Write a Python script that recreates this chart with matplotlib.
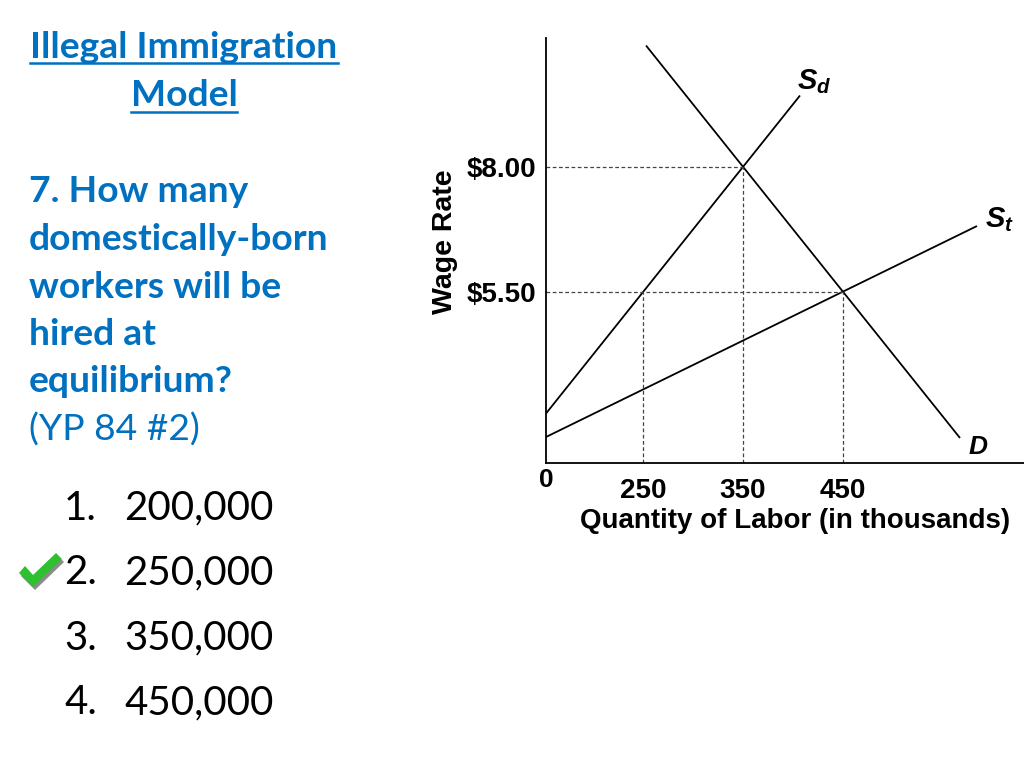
import matplotlib
matplotlib.use("Agg")
import matplotlib.pyplot as plt
from matplotlib.lines import Line2D
from matplotlib.patches import Polygon

# data: labour market (quantity in thousands, wage in $)
sd_q = [153, 407]
sd_w = [3.07, 9.43]
d_q = [253, 567]
d_w = [10.43, 2.58]
st_q = [153, 584]
st_w = [2.60, 6.82]

wage_ticks = [8.00, 5.50]
wage_labels = ["$8.00", "$5.50"]
qty_ticks = [250, 350, 450]
qty_labels = ["250", "350", "450"]

# dashed guides: (q, w) points where curves cross
eq_high = (350, 8.00)   # Sd meets D
eq_low = (450, 5.50)    # St meets D
sd_at_low = (250, 5.50)  # domestic supply at $5.50

title_lines = ["Illegal Immigration", "Model"]
question_lines = ["7. How many", "domestically-born", "workers will be",
                  "hired at", "equilibrium?"]
source = "(YP 84 #2)"
answers = ["200,000", "250,000", "350,000", "450,000"]
correct = 1

BLUE = "#0070C0"
W, H = 1024, 768

plt.rcParams["mathtext.fontset"] = "custom"
plt.rcParams["mathtext.it"] = "Liberation Sans:italic:bold"
plt.rcParams["mathtext.rm"] = "Liberation Sans:bold"

fig = plt.figure(figsize=(10.24, 7.68), dpi=100)


def fx(px):
    return px / W


def fy(py):
    return 1 - py / H


# ---- chart ----
ax = fig.add_axes([fx(546), fy(463), fx(1024) - fx(546), fy(38) - fy(463)])
ax.set_xlim(153, 631)
ax.set_ylim(2.08, 10.58)
for s in ["top", "right"]:
    ax.spines[s].set_visible(False)
for s in ["left", "bottom"]:
    ax.spines[s].set_linewidth(1.3)
ax.patch.set_alpha(0)

lw = 1.3
ax.plot(sd_q, sd_w, color="black", lw=lw, solid_capstyle="butt")
ax.plot(d_q, d_w, color="black", lw=lw, solid_capstyle="butt")
ax.plot(st_q, st_w, color="black", lw=lw, solid_capstyle="butt")

dash = dict(color="#444444", lw=0.9, linestyle=(0, (3, 2)))
ax.plot([153, eq_high[0]], [eq_high[1]] * 2, **dash)
ax.plot([153, eq_low[0]], [eq_low[1]] * 2, **dash)
for q, w in [sd_at_low, eq_high, eq_low]:
    ax.plot([q, q], [2.08, w], **dash)

ax.set_xticks(qty_ticks)
ax.set_xticklabels(qty_labels)
ax.set_yticks(wage_ticks)
ax.set_yticklabels(wage_labels)
ax.tick_params(length=0, labelsize=20)
ax.tick_params(axis="x", pad=11)
ax.tick_params(axis="y", pad=7)
for lab in ax.get_xticklabels() + ax.get_yticklabels():
    lab.set_fontfamily("Liberation Sans")
    lab.set_fontweight("bold")

ax.text(0.0, -0.04, "0", transform=ax.transAxes, ha="center", va="center",
        fontsize=19, fontweight="bold", family="Liberation Sans")
ax.set_xlabel("Quantity of Labor (in thousands)", fontsize=20,
              fontweight="bold", family="Liberation Sans", labelpad=3, x=0.522)
ax.set_ylabel("Wage Rate", fontsize=20.5, fontweight="bold",
              family="Liberation Sans", labelpad=6, y=0.52)

ax.text(sd_q[1] - 3, sd_w[1] + 0.0, r"$S_d$", fontsize=21, ha="left", va="bottom")
ax.text(st_q[1] + 8, st_w[1] - 0.15, r"$S_t$", fontsize=21, ha="left", va="bottom")
ax.text(d_q[1] + 9, d_w[1] + 0.06, "D", fontsize=19, fontstyle="italic",
        fontweight="bold", family="Liberation Sans", ha="left", va="top")

# ---- left text ----
renderer = fig.canvas.get_renderer()


def underline(t):
    bb = t.get_window_extent(renderer=renderer)
    y = bb.y0 + 1
    fig.add_artist(Line2D([bb.x0 / W, bb.x1 / W], [y / H, y / H],
                          color=BLUE, lw=1.8, transform=fig.transFigure))


for i, line in enumerate(title_lines):
    t = fig.text(fx(184), fy(47 + 49 * i), line, ha="center", va="center",
                 fontsize=26.8, fontweight="bold", family="Lato", color=BLUE)
    underline(t)

for i, line in enumerate(question_lines):
    fig.text(fx(29), fy(192 + 47.5 * i), line, ha="left", va="center",
             fontsize=26.8, fontweight="bold", family="Lato", color=BLUE)
fig.text(fx(29), fy(192 + 47.5 * 5), source, ha="left", va="center",
         fontsize=26.8, family="Lato", color=BLUE)

for i, a in enumerate(answers):
    y = fy(508 + 65 * i)
    fig.text(fx(97), y, "%d." % (i + 1), ha="right", va="center",
             fontsize=29, family="Lato", color="black")
    fig.text(fx(124), y, a, ha="left", va="center",
             fontsize=29, family="Lato", color="black")

# check mark next to the correct answer (drawn in pixels)
dy = 65 * (correct - 1)
check = [(19, 573), (25, 566), (33, 575), (56, 553), (62, 559), (33, 587)]
shadow = [(x + 2, y + 3) for x, y in check]
for pts, col in [(shadow, "#8a8a8a"), (check, "#2EC02E")]:
    fig.add_artist(Polygon([(fx(x), fy(y + dy)) for x, y in pts], closed=True,
                           facecolor=col, edgecolor="none", transform=fig.transFigure))

fig.savefig("out.png", dpi=100)
